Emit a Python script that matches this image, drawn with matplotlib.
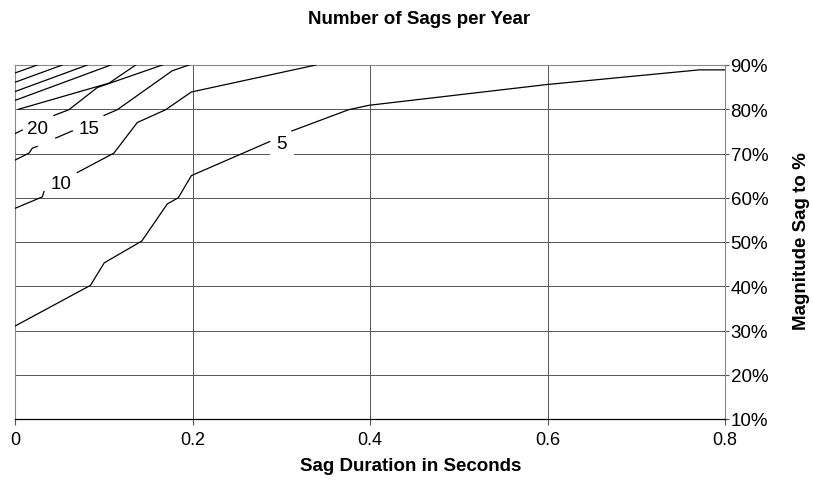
import numpy as np
import matplotlib
matplotlib.use("Agg")
import matplotlib.pyplot as plt

plt.rcParams['font.family'] = ['Liberation Sans', 'DejaVu Sans']

nan = np.nan

# contour lines (x = seconds, y = % magnitude); nan marks label gaps
levels = ['5', '10', '15', '20']
x5 = [0, 0.085, 0.1006, 0.1428, 0.1716, 0.184, 0.1987, 0.287, nan,
      0.312, 0.376, 0.399, 0.6, 0.771, 0.8]
y5 = [31.0, 40.2, 45.3, 50.2, 58.6, 60.0, 65.0, 72.7, nan,
      75.1, 79.9, 80.9, 85.6, 88.9, 88.9]
x10 = [0, 0.0308, 0.0327, nan, 0.0702, 0.1115, 0.1378, 0.1698, 0.1987, 0.339]
y10 = [57.6, 60.2, 61.4, nan, 65.7, 70.1, 77.0, 79.9, 83.9, 90]
x15 = [0, 0.0158, 0.0195, 0.0251, nan, 0.0459, 0.0646, nan,
       0.1003, 0.1153, 0.1772, 0.196]
y15 = [68.5, 70.1, 71.2, 71.6, nan, 73.5, 75.1, nan,
       78.6, 79.9, 88.7, 90]
x20 = [0, 0.0082, nan, 0.0439, 0.0608, 0.0927, 0.166]
y20 = [74.5, 75.3, nan, 78.6, 79.9, 84.9, 90]

# unlabelled contours in the top left corner
x25 = [0.004, 0.106, 0.136]
y25 = [80.0, 85.9, 90]
x30 = [0, 0.108]
y30 = [82.0, 90]
x35 = [0, 0.0815]
y35 = [84.0, 90]
x40 = [0, 0.0533]
y40 = [86.1, 90]
x45 = [0, 0.0251]
y45 = [88.2, 90]

# where the level labels sit
label_x = [0.3005, 0.0515, 0.0834, 0.0251]
label_y = [72.3, 63.3, 75.7, 75.7]

xticks = [0, 0.2, 0.4, 0.6, 0.8]
xtick_labels = ['0', '0.2', '0.4', '0.6', '0.8']
yticks = [10, 20, 30, 40, 50, 60, 70, 80, 90]
ytick_labels = [f'{v}%' for v in yticks]

fig = plt.figure(figsize=(8.14, 4.81), dpi=100)
ax = fig.add_axes([15 / 814, 61 / 481, 710 / 814, 354 / 481])

lines = [(x5, y5), (x10, y10), (x15, y15), (x20, y20), (x25, y25),
         (x30, y30), (x35, y35), (x40, y40), (x45, y45)]
for xs, ys in lines:
    ax.plot(xs, ys, color='black', lw=0.9, zorder=5)

for lab, lx, ly in zip(levels, label_x, label_y):
    ax.text(lx, ly, lab, fontsize=13.5, ha='center', va='center', zorder=4,
            bbox=dict(boxstyle='square,pad=0.35', fc='white', ec='none'))

ax.set_xlim(0, 0.8)
ax.set_ylim(10, 90)
ax.set_xticks(xticks)
ax.set_xticklabels(xtick_labels)
ax.set_yticks(yticks)
ax.set_yticklabels(ytick_labels)
ax.yaxis.tick_right()
ax.tick_params(axis='y', direction='inout', length=6, pad=1, labelsize=13.5,
               color='#555555')
ax.tick_params(axis='x', direction='out', length=4, pad=5, labelsize=13,
               color='#555555')

ax.set_axisbelow(True)
ax.grid(True, color='#555555', lw=0.7)
for side in ['left', 'top', 'right']:
    ax.spines[side].set_color('#888888')
    ax.spines[side].set_linewidth(0.8)
ax.spines['bottom'].set_color('black')
ax.spines['bottom'].set_linewidth(0.9)

fig.text(419 / 814, 1 - 20 / 481, 'Number of Sags per Year', ha='center',
         va='center', fontsize=13.5, fontweight='bold')
fig.text(411 / 814, 1 - 467 / 481, 'Sag Duration in Seconds', ha='center',
         va='center', fontsize=13.5, fontweight='bold')
fig.text(802 / 814, 1 - 241 / 481, 'Magnitude Sag to %', ha='center',
         va='center', rotation=90, fontsize=13.5, fontweight='bold')

fig.savefig('out.png', dpi=100)
